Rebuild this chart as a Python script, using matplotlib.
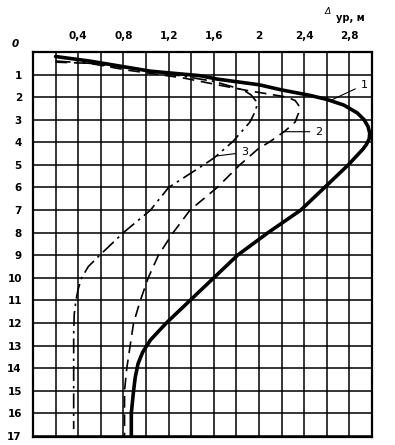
import numpy as np
import matplotlib
matplotlib.use('Agg')
import matplotlib.pyplot as plt

# кривая 1 (сплошная)
x1 = [0.2, 0.5, 0.86, 1.04, 1.48, 1.63, 2.0, 2.2, 2.45, 2.6, 2.75, 2.87, 2.93, 2.965, 2.98,
      2.975, 2.95, 2.92, 2.79, 2.58, 2.37, 2.08, 1.81, 1.60, 1.39, 1.18, 1.04, 0.97,
      0.93, 0.905, 0.89, 0.87, 0.87]
y1 = [0.2, 0.4, 0.7, 0.85, 1.05, 1.2, 1.45, 1.68, 1.92, 2.1, 2.35, 2.7, 3.0, 3.3, 3.6,
      3.85, 4.1, 4.3, 5.0, 6.0, 7.0, 8.0, 9.0, 10.0, 11.0, 12.0, 12.75, 13.3,
      13.8, 14.4, 15.0, 16.0, 17.05]

# кривая 2 (штриховая)
x2 = [0.2, 0.5, 0.83, 1.33, 1.63, 1.89, 2.25, 2.32, 2.35, 2.35, 2.32, 2.23, 2.1, 1.99,
      1.83, 1.63, 1.39, 1.24, 1.11, 1.02, 0.95, 0.89, 0.86, 0.83, 0.81, 0.81, 0.81]
y2 = [0.45, 0.5, 0.8, 1.15, 1.45, 1.7, 2.0, 2.15, 2.35, 2.7, 3.1, 3.5, 3.96, 4.3,
      5.0, 6.0, 7.0, 8.0, 9.0, 10.0, 11.0, 12.0, 13.0, 14.0, 15.0, 16.0, 17.05]

# кривая 3 (штрихпунктир)
x3 = [0.2, 0.5, 0.9, 1.3, 1.6, 1.86, 1.93, 1.97, 1.98, 1.96, 1.92, 1.77, 1.6, 1.51, 1.2,
      1.04, 0.80, 0.59, 0.49, 0.43, 0.40, 0.38, 0.365, 0.36, 0.36]
y3 = [0.4, 0.5, 0.75, 1.05, 1.3, 1.68, 1.9, 2.15, 2.4, 2.7, 3.1, 3.96, 4.7, 5.0, 6.0,
      7.0, 8.0, 9.0, 9.5, 10.0, 10.5, 11.0, 11.6, 12.5, 16.7]

xticks = [0.4, 0.8, 1.2, 1.6, 2.0, 2.4, 2.8]
xtick_labels = ['0,4', '0,8', '1,2', '1,6', '2', '2,4', '2,8']
yticks = list(range(1, 18))

fig = plt.figure(figsize=(3.95, 4.45), dpi=100)
ax = fig.add_axes([33/395, 1 - 437/445, 339/395, 385/445])

ax.plot(x1, y1, color='black', lw=2.6, solid_capstyle='round', solid_joinstyle='round')
ax.plot(x2, y2, color='black', lw=1.2, dashes=(7, 4))
ax.plot(x3, y3, color='black', lw=1.2, dashes=(9, 3, 1.5, 3))

ax.set_xlim(0, 3.0)
ax.set_ylim(17.05, 0)

ax.xaxis.tick_top()
ax.set_xticks(xticks)
ax.set_xticklabels(xtick_labels, fontsize=7.5, fontweight='bold')
ax.set_xticks(np.arange(0.2, 3.0, 0.2), minor=True)
ax.set_yticks(yticks)
ax.set_yticklabels([str(v) for v in yticks], fontsize=7.5, fontweight='bold')
ax.tick_params(which='both', length=0)
ax.tick_params(axis='x', pad=8)
ax.tick_params(axis='y', pad=8)
ax.grid(True, which='both', color='black', lw=1.1)
for s in ax.spines.values():
    s.set_linewidth(1.6)

fig.text(15/395, 1 - 44/445, '0', fontsize=7.5, fontweight='bold', fontstyle='italic',
         ha='center', va='center')

# подписи кривых
kw = dict(arrowprops=dict(arrowstyle='-', color='black', lw=0.8),
          fontsize=8, ha='center', va='center')
ax.annotate('1', xy=(2.61, 2.2), xytext=(2.93, 1.45), **kw)
ax.annotate('2', xy=(2.19, 3.53), xytext=(2.53, 3.53), **kw)
ax.annotate('3', xy=(1.6, 4.62), xytext=(1.87, 4.45), **kw)

# заголовок оси
fig.text(328/395, 1 - 12/445, 'Δ', fontsize=6.5, fontstyle='italic', ha='center', va='center')
fig.text(336/395, 1 - 18/445, 'ур, м', fontsize=7, fontweight='bold', ha='left', va='center')

fig.savefig('out.png', dpi=100)
